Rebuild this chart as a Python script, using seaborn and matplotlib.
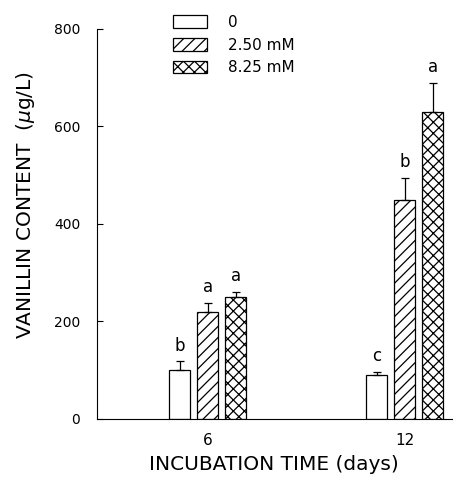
import numpy as np
import pandas as pd
import matplotlib
matplotlib.use("Agg")
import matplotlib.pyplot as plt
import seaborn as sns

# data
days = ["6", "12"]
doses = ["0", "2.50 mM", "8.25 mM"]
vanillin_6 = [100, 220, 250]
vanillin_12 = [90, 450, 630]
err_6 = [18, 18, 10]
err_12 = [6, 45, 60]
letters_6 = ["b", "a", "a"]
letters_12 = ["c", "b", "a"]

df = pd.DataFrame({
    "day": [d for d in days for _ in doses],
    "dose": doses * len(days),
    "vanillin": vanillin_6 + vanillin_12,
})

sns.set_style("ticks", {"axes.edgecolor": "black", "text.color": "black",
                        "xtick.color": "black", "ytick.color": "black",
                        "axes.labelcolor": "black"})
plt.rcParams["font.family"] = ["DejaVu Sans"]
plt.rcParams["hatch.linewidth"] = 0.9

fig = plt.figure(figsize=(4.73, 4.82), dpi=100)
ax = fig.add_axes([0.205, 0.131, 0.75, 0.809])

sns.barplot(data=df, x="day", y="vanillin", hue="dose", order=days, hue_order=doses,
            width=0.426, gap=0.25, palette=["white"] * 3, edgecolor="black",
            linewidth=0.9, errorbar=None, legend=False, ax=ax)

bars = list(ax.containers)
hatches = ["", "///", "xxx"]
for cont, h in zip(bars, hatches):
    for p in cont.patches:
        p.set_hatch(h)

# upward-only error bars and letters
for j, cont in enumerate(bars):
    vals = [vanillin_6[j], vanillin_12[j]]
    errs = [err_6[j], err_12[j]]
    lets = [letters_6[j], letters_12[j]]
    xs = [p.get_x() + p.get_width() / 2 for p in cont.patches]
    ax.errorbar(xs, vals, yerr=[np.zeros(2), errs], fmt="none", ecolor="black",
                elinewidth=0.9, capsize=3, capthick=0.9)
    for x, v, e, t in zip(xs, vals, errs, lets):
        ax.text(x, v + e + 14, t, ha="center", va="bottom", fontsize=12)

ax.set_ylim(0, 800)
ax.set_xlim(-0.563, 1.239)
ax.set_yticks([0, 200, 400, 600, 800])
ax.tick_params(axis="y", direction="in", length=4, labelsize=10, pad=12)
ax.tick_params(axis="x", length=0, labelsize=11, pad=10)
sns.despine(ax=ax)
ax.set_xlabel("INCUBATION TIME (days)", fontsize=14.5, labelpad=5)
ax.set_ylabel(r"VANILLIN CONTENT  ($\mu$g/L)", fontsize=14.5)
ax.yaxis.set_label_coords(-0.17, 0.549)

fig.legend(handles=bars, labels=doses, loc="upper left",
           bbox_to_anchor=(0.366, 0.969), frameon=False, fontsize=11,
           borderaxespad=0, borderpad=0,
           handlelength=2.2, handleheight=0.9, labelspacing=0.5, handletextpad=1.4)

fig.savefig("out.png", dpi=100)
